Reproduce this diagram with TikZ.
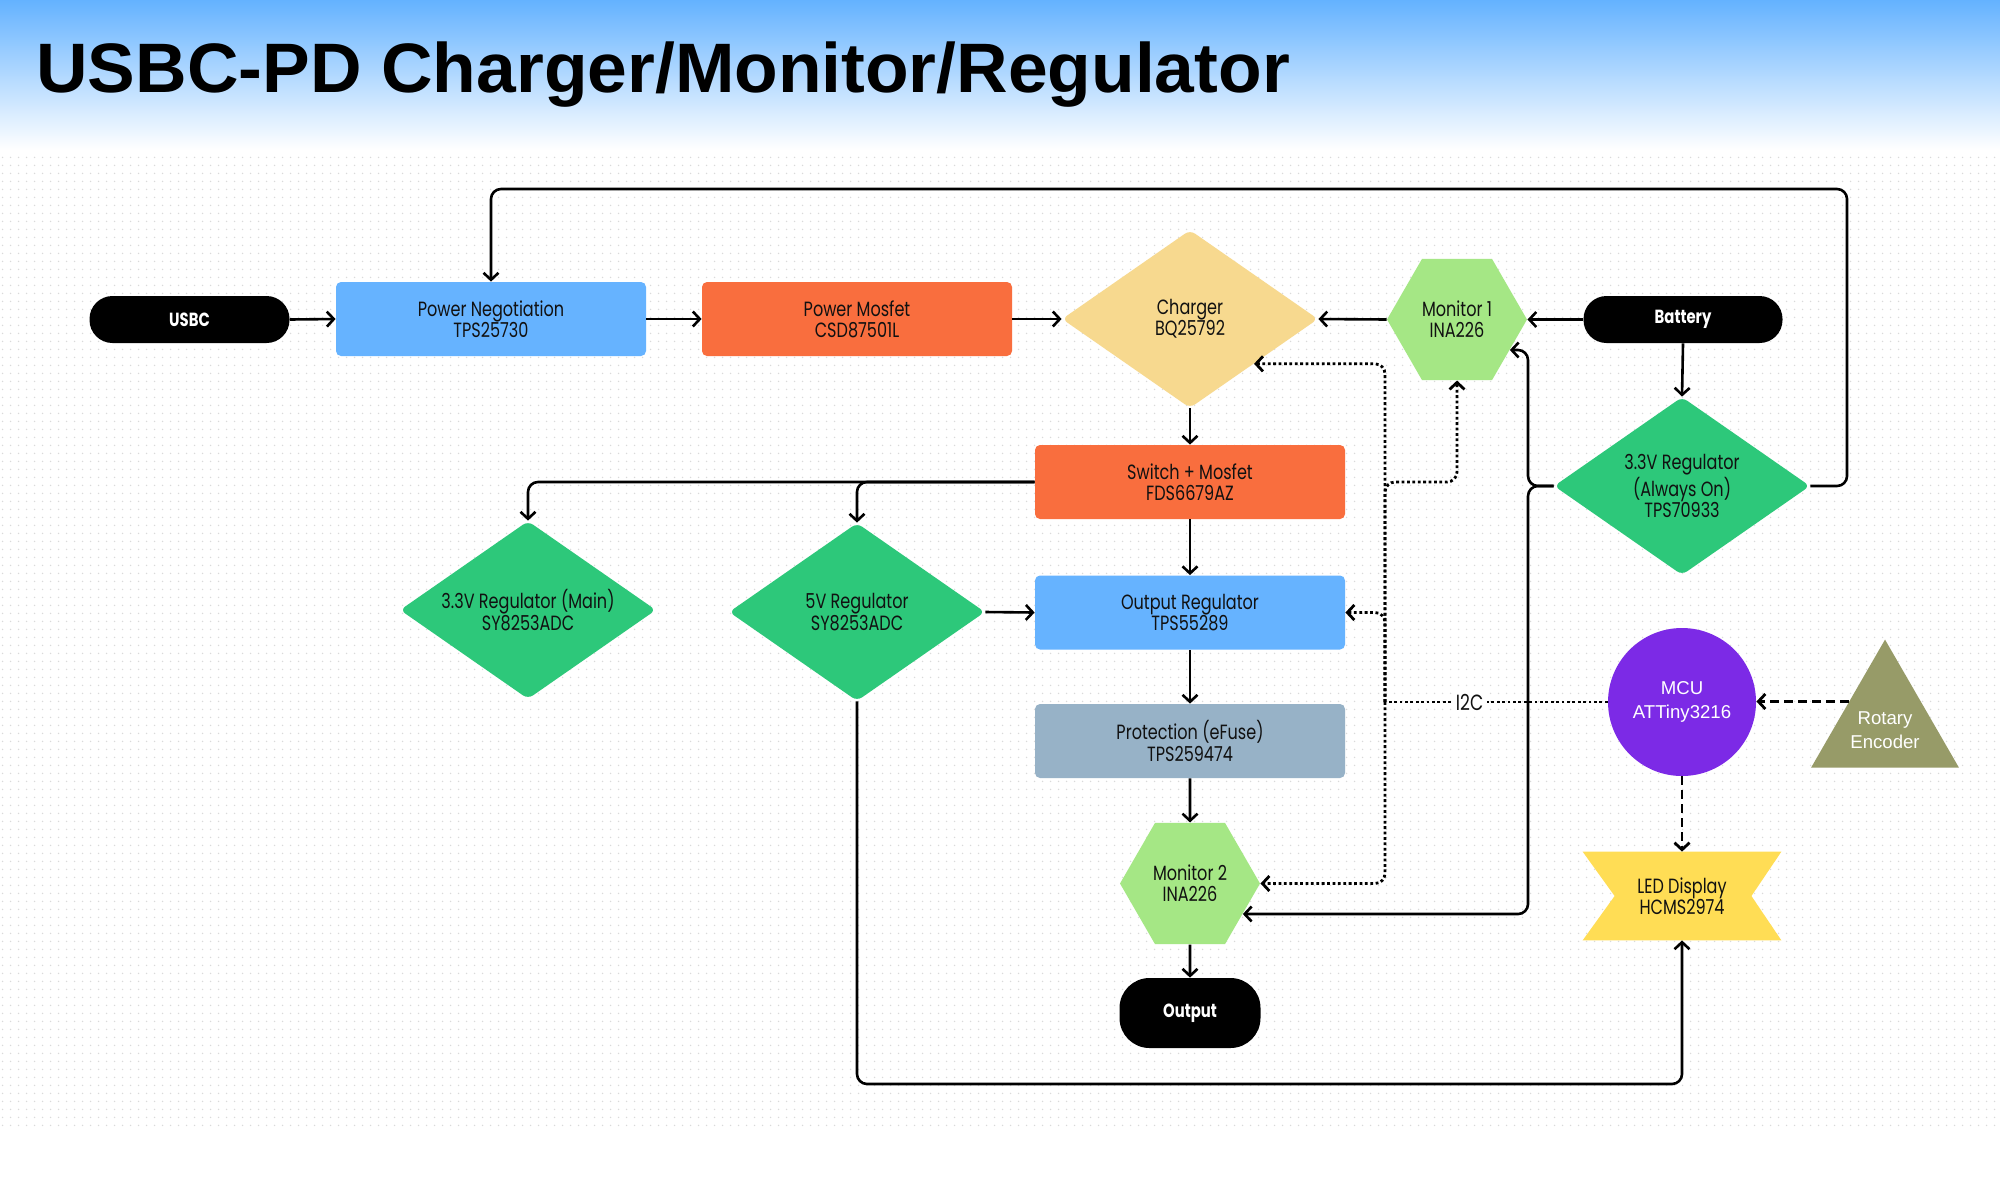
\documentclass[tikz,border=0pt]{standalone}
\usepackage{fontspec}
\setmainfont{Poppins}[FakeStretch=0.78]
\newfontfamily\titlefont{Liberation Sans}[FakeStretch=1.02]
\newfontfamily\narrowfont{Liberation Sans}
\usetikzlibrary{shapes.geometric,arrows.meta,patterns.meta,calc}
\definecolor{hdrblue}{RGB}{100,178,255}
\definecolor{nblue}{RGB}{102,179,255}
\definecolor{norange}{RGB}{249,110,62}
\definecolor{nyellow}{RGB}{247,217,143}
\definecolor{ngreen}{RGB}{45,200,122}
\definecolor{hexgreen}{RGB}{165,231,133}
\definecolor{ngray}{RGB}{151,178,199}
\definecolor{npurple}{RGB}{124,42,230}
\definecolor{nolive}{RGB}{151,155,104}
\definecolor{ledyellow}{RGB}{255,221,85}
\definecolor{txt}{RGB}{17,17,17}
\definecolor{dotc}{RGB}{218,218,218}
\tikzdeclarepattern{
  name=dotgrid,
  type=uncolored,
  bounding box={(0pt,0pt) and (4pt,4pt)},
  tile size={(4pt,4pt)},
  code={\fill (2pt,2pt) circle (0.45pt);}
}
\pgfdeclarelayer{bgl}
\pgfdeclarelayer{shp}
\pgfsetlayers{bgl,shp,main}
\begin{document}
\begin{tikzpicture}[x=0.5pt,y=-0.5pt,
  every node/.style={inner sep=0pt, align=center, font=\fontsize{10.3}{10.6}\selectfont, text=txt},
  box/.style={rectangle, rounded corners=2.5pt, minimum width=155pt, minimum height=37pt},
  dia/.style={diamond, aspect=1.44, rounded corners=3pt, minimum width=128pt, minimum height=89pt},
  hexa/.style={regular polygon, regular polygon sides=6, minimum size=70pt, fill=hexgreen},
  pill/.style={rectangle, rounded corners=11.5pt, fill=black, text=white, minimum width=100pt, minimum height=23.5pt, font=\fontsize{9.5}{10}\selectfont\bfseries},
  arr/.style={-{Straight Barb[length=3.5pt,width=7.5pt]}, line width=1.3pt, rounded corners=5pt},
  dotarr/.style={arr, line width=1.4pt, dash pattern=on 1.4pt off 1.3pt},
  dotline/.style={line width=1.4pt, dash pattern=on 1.4pt off 1.3pt},
  dasharr/.style={arr, line width=1.4pt, dash pattern=on 4.5pt off 2.5pt},
]
\useasboundingbox (0,0) rectangle (2000,1200);
\begin{pgfonlayer}{bgl}
  \fill[white] (0,0) rectangle (2000,1200);
  \fill[pattern=dotgrid, pattern color=dotc] (0,140) rectangle (2000,1130);
  \shade[top color=hdrblue, bottom color=white] (0,0) rectangle (2000,150);
\end{pgfonlayer}

\node[anchor=base west, font=\titlefont\bfseries\fontsize{35}{40}\selectfont, text=black] (title) at (36,92) {USBC-PD Charger/Monitor/Regulator};

% nodes
\node[pill] (usbc) at (189.5,319.5) {USBC};
\node[box, fill=nblue] (pn) at (491,319) {Power Negotiation\\TPS25730};
\node[box, fill=norange] (pm) at (857,319) {Power Mosfet\\CSD87501L};
\node[dia, fill=nyellow] (chg) at (1190,319) {Charger\\BQ25792};
\node[hexa] (mon1) at (1457,319.5) {Monitor 1\\INA226};
\node[pill, minimum width=99.5pt] (bat) at (1683,319.5) {Battery};
\node[dia, fill=ngreen] (ao) at (1682,486) {3.3V Regulator\\(Always On)\\TPS70933};
\node[box, fill=norange] (sw) at (1190,482) {Switch + Mosfet\\FDS6679AZ};
\node[dia, fill=ngreen] (reg33) at (528,610) {3.3V Regulator (Main)\\SY8253ADC};
\node[dia, fill=ngreen] (reg5) at (857,612) {5V Regulator\\SY8253ADC};
\node[box, fill=nblue] (outreg) at (1190,612.5) {Output Regulator\\TPS55289};
\node[box, fill=ngray] (prot) at (1190,741) {Protection (eFuse)\\TPS259474};
\node[hexa] (mon2) at (1190,883.5) {Monitor 2\\INA226};
\node[pill, rounded corners=15pt, minimum width=70.5pt, minimum height=35pt] (out) at (1190,1013) {Output};
\node[circle, fill=npurple, minimum size=74pt, text=white, font=\narrowfont\fontsize{9.3}{12}\selectfont] (mcu) at (1682,702) {MCU\\ATTiny3216};
\node[regular polygon, regular polygon sides=3, minimum size=85.4pt, fill=nolive,
      label={[text=white, font=\narrowfont\fontsize{9.3}{12}\selectfont, yshift=-2.5pt]center:{Rotary\\Encoder}}] (rot) at (1885,725) {};
\node[rectangle, minimum width=99pt, minimum height=44pt] (led) at (1682,896) {LED Display\\HCMS2974};
\begin{pgfonlayer}{shp}
  \fill[ledyellow] (led.north west) -- (led.north east) -- ([xshift=-15pt]led.east) -- (led.south east) -- (led.south west) -- ([xshift=16pt]led.west) -- cycle;
\end{pgfonlayer}

% waypoints
\coordinate (tr) at (1847,189);
\coordinate (bl) at (857,1084);
\coordinate (pj) at (1528,486);
\coordinate (ij) at (1385,702);
\coordinate (m1j) at (1457,482);

% solid connectors
\draw[arr] (usbc.east) -- (pn.west);
\draw[arr] (pn.east) -- (pm.west);
\draw[arr] (pm.east) -- (chg.west);
\draw[arr] (mon1.west) -- (chg.east);
\draw[arr] (bat.west) -- (mon1.east);
\draw[arr] (bat.south) -- (ao.north);
\draw[arr] (ao.east) -| (tr) -| (pn.north);
\draw[arr] (chg.south) -- (sw.north);
\draw[arr] (sw.west) -| (reg33.north);
\draw[arr] (sw.west) -| (reg5.north);
\draw[arr] (reg5.east) -- (outreg.west);
\draw[arr] (sw.south) -- (outreg.north);
\draw[arr] (outreg.south) -- (prot.north);
\draw[arr] (prot.south) -- (mon2.north);
\draw[arr] (mon2.south) -- (out.north);
\draw[arr] (reg5.south) -- (bl) -| (led.south);
\draw[arr] (ao.west) -- (pj) |- (mon1.-30);
\draw[arr] (ao.west) -- (pj) |- (mon2.-30);

% dashed
\draw[dasharr] (mcu.south) -- (led.north);
\draw[dasharr] (rot.147) -- (rot.147 -| mcu.east);

% I2C dotted
\draw[dotline] (mcu.west) -- node[pos=0.62, fill=white, inner sep=2pt, font=\fontsize{11}{12}\selectfont] (i2c) {I2C} (ij);
\draw[dotarr] (ij) |- (chg.-35);
\draw[dotarr] (ij) |- (m1j) -- (mon1.south);
\draw[dotarr] (ij) |- (outreg.east);
\draw[dotarr] (ij) |- (mon2.east);
\end{tikzpicture}
\end{document}
